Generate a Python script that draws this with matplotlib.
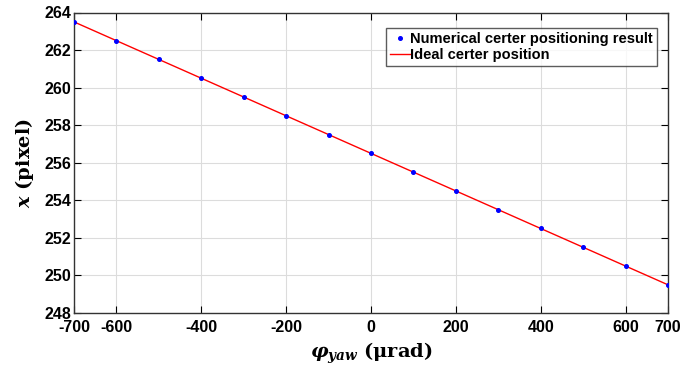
import matplotlib
matplotlib.use("Agg")
import matplotlib.pyplot as plt

phi = [-700, -600, -500, -400, -300, -200, -100, 0, 100, 200, 300, 400, 500, 600, 700]
x_num = [263.5, 262.5, 261.5, 260.5, 259.5, 258.5, 257.5, 256.5, 255.5, 254.5, 253.5, 252.5, 251.5, 250.5, 249.5]
line_phi = [-700, 700]
line_x = [263.5, 249.5]
xticks = [-700, -600, -400, -200, 0, 200, 400, 600, 700]
yticks = [248, 250, 252, 254, 256, 258, 260, 262, 264]

plt.rcParams['font.family'] = ['Liberation Sans', 'DejaVu Sans']
plt.rcParams['axes.unicode_minus'] = False
plt.rcParams['mathtext.fontset'] = 'custom'
plt.rcParams['mathtext.rm'] = 'DejaVu Serif:bold'
plt.rcParams['mathtext.it'] = 'DejaVu Serif:bold:italic'
plt.rcParams['mathtext.bf'] = 'DejaVu Serif:bold'

fig = plt.figure(figsize=(6.83, 3.68), dpi=100)
ax = fig.add_axes([74/683, 1-313/368, (668-74)/683, (313-12.5)/368])

ax.plot(line_phi, line_x, color='red', lw=1.0, label='Ideal certer position', zorder=2)
ax.plot(phi, x_num, linestyle='none', marker='o', markersize=2.6, color='blue',
        label='Numerical certer positioning result', zorder=3)

ax.set_xlim(-700, 700)
ax.set_ylim(248, 264)
ax.set_xticks(xticks)
ax.set_yticks(yticks)
ax.grid(True, color='#dcdcdc', lw=0.8)
ax.set_axisbelow(True)
ax.tick_params(direction='in', length=5, width=0.8, top=True, right=True, labelsize=11.5)
ax.tick_params(axis='x', pad=5)
ax.tick_params(axis='y', pad=2)
for lab in ax.get_xticklabels() + ax.get_yticklabels():
    lab.set_fontweight('bold')
for s in ax.spines.values():
    s.set_color('#333333')
    s.set_linewidth(1.0)

ax.set_xlabel(r'$\varphi_{yaw}$' + ' (μrad)', fontsize=14, family='DejaVu Serif', fontweight='bold', labelpad=4)
ax.set_ylabel(r'$x$' + ' (pixel)', fontsize=14, family='DejaVu Serif', fontweight='bold', labelpad=6)

h, l = ax.get_legend_handles_labels()
leg = ax.legend([h[1], h[0]], [l[1], l[0]], loc='upper right', bbox_to_anchor=(0.982, 0.95),
                prop={'weight': 'bold', 'size': 10.5}, frameon=True, fancybox=False,
                handlelength=1.4, handletextpad=0.0, borderpad=0.3, labelspacing=0.15,
                borderaxespad=0)
leg.get_frame().set_edgecolor('#333333')
leg.get_frame().set_linewidth(1.0)

fig.savefig('out.png', dpi=100)
